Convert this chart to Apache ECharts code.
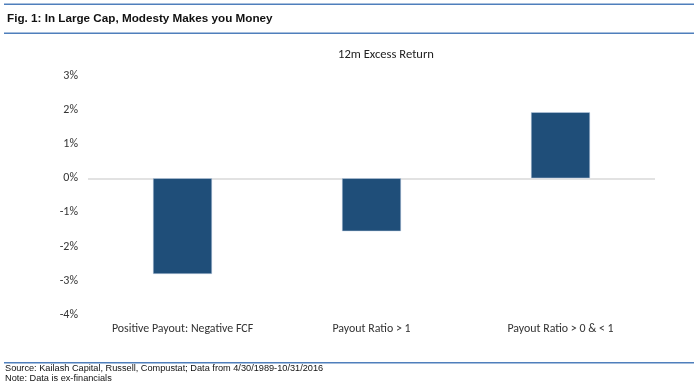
<!DOCTYPE html>
<html>
<head>
<meta charset="utf-8">
<script src="https://cdn.jsdelivr.net/npm/echarts@6/dist/echarts.min.js"></script>
<style>
html,body{margin:0;padding:0;background:#fff;}
#chart{width:700px;height:388px;}
</style>
</head>
<body>
<div id="chart"></div>
<script>
const categories = ['Positive Payout: Negative FCF', 'Payout Ratio > 1', 'Payout Ratio > 0 & < 1'];
const excessReturn = [-2.8, -1.55, 1.93];
const yTicks = [-4, -3, -2, -1, 0, 1, 2, 3];

const chart = echarts.init(document.getElementById('chart'));
const splitColors = yTicks.map(v => v === 0 ? '#d9d9d9' : 'rgba(0,0,0,0)');
const FONT = 'Carlito, Lato';

chart.setOption({
  animation: false,
  backgroundColor: '#fff',
  title: {
    text: '12m Excess Return',
    left: 381, top: 43,
    textAlign: 'center',
    textStyle: {fontFamily: FONT, fontSize: 12.6, fontWeight: 'normal', color: '#222'}
  },
  grid: {left: 88, right: 45, top: 75.7, bottom: 73},
  xAxis: {
    type: 'category',
    data: categories,
    axisLine: {show: false},
    axisTick: {show: false},
    axisLabel: {interval: 0, fontFamily: FONT, fontSize: 11.9, color: '#333', margin: 8}
  },
  yAxis: {
    type: 'value',
    min: -4, max: 3, interval: 1,
    axisLine: {show: false},
    axisTick: {show: false},
    axisLabel: {formatter: v => v + '%', fontFamily: FONT, fontSize: 12, color: '#333', margin: 10},
    splitLine: {show: true, lineStyle: {color: splitColors, width: 1.5}}
  },
  series: [{
    type: 'bar',
    data: excessReturn,
    barWidth: 59,
    itemStyle: {color: '#1f4e79', borderColor: '#c5d3e6', borderWidth: 0.5}
  }],
  graphic: [
    {type: 'rect', shape: {x: 4, y: 3.5, width: 690, height: 1.5}, style: {fill: '#4f7fbc'}},
    {type: 'text', left: 7, top: 13, style: {text: 'Fig. 1: In Large Cap, Modesty Makes you Money', font: 'bold 11.7px "Liberation Sans", Arial', fill: '#111'}},
    {type: 'rect', shape: {x: 4, y: 32.5, width: 690, height: 1.5}, style: {fill: '#4f7fbc'}},
    {type: 'rect', shape: {x: 4, y: 362, width: 690, height: 1.5}, style: {fill: '#4f7fbc'}},
    {type: 'text', left: 5, top: 364, style: {text: 'Source: Kailash Capital, Russell, Compustat; Data from 4/30/1989-10/31/2016', font: '9.2px "Liberation Sans", Arial', fill: '#111'}},
    {type: 'text', left: 5, top: 374, style: {text: 'Note: Data is ex-financials', font: '9.2px "Liberation Sans", Arial', fill: '#111'}}
  ]
});
</script>
</body>
</html>
